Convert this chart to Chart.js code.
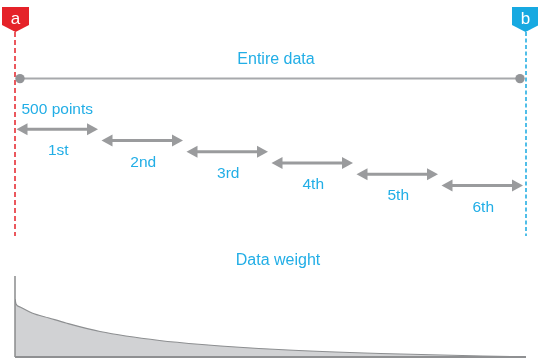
<!DOCTYPE html>
<html>
<head>
<meta charset="utf-8">
<script src="https://cdn.jsdelivr.net/npm/chart.js@4.4.1/dist/chart.umd.min.js"></script>
<style>
  html, body { margin: 0; padding: 0; background: #fff; }
  #wrap { position: relative; width: 538px; height: 358px; overflow: hidden; }
  #top { position: absolute; left: 0; top: 0; }
  #bottom { position: absolute; left: 0; top: 240px; }
</style>
</head>
<body>
<div id="wrap">
  <canvas id="top" width="538" height="240"></canvas>
  <canvas id="bottom" width="538" height="118"></canvas>
</div>
<script>
// --- data ---
const entireRange = [0, 3000];            // whole series, in points
const windowStarts = [0, 500, 1000, 1500, 2000, 2500];
const windowSize = 500;
const windowLabels = ['1st', '2nd', '3rd', '4th', '5th', '6th'];
const markerLabels = ['a', 'b'];
const entireLabel = 'Entire data';
const sizeLabel = '500 points';
const weightTitle = 'Data weight';

// weight curve (x in points, y in weight units)
const weightX = [0, 6, 30, 100, 200, 300, 500, 850, 1100, 1550, 2150, 2750, 3000];
const weightY = [58, 53, 50, 44, 39, 34, 25.5, 16.5, 12.5, 7.5, 3.5, 1, 0.3];

// --- styling ---
const FONT = '"Liberation Sans", Arial, Helvetica, sans-serif';
const BLUE_TEXT = '#22aee6';
const RED = '#e52229';
const BLUE = '#17a9e1';
const ARROW = '#9a9b9d';
const firstRow = 4.5;   // vertical level of the first window (row 0 = entire data)

function drawArrow(ctx, x1, x2, yy) {
    const head = 11, half = 6;
    ctx.strokeStyle = ARROW;
    ctx.fillStyle = ARROW;
    ctx.lineWidth = 3;
    ctx.setLineDash([]);
    ctx.beginPath();
    ctx.moveTo(x1 + head - 1, yy);
    ctx.lineTo(x2 - head + 1, yy);
    ctx.stroke();
    ctx.beginPath();
    ctx.moveTo(x1, yy);
    ctx.lineTo(x1 + head, yy - half);
    ctx.lineTo(x1 + head, yy + half);
    ctx.closePath();
    ctx.fill();
    ctx.beginPath();
    ctx.moveTo(x2, yy);
    ctx.lineTo(x2 - head, yy - half);
    ctx.lineTo(x2 - head, yy + half);
    ctx.closePath();
    ctx.fill();
}

function drawFlag(ctx, cx, label, color) {
    const w = 27;
    ctx.fillStyle = color;
    ctx.beginPath();
    ctx.moveTo(cx - w / 2, 7);
    ctx.lineTo(cx + w / 2, 7);
    ctx.lineTo(cx + w / 2, 25);
    ctx.lineTo(cx, 32);
    ctx.lineTo(cx - w / 2, 25);
    ctx.closePath();
    ctx.fill();
    ctx.fillStyle = '#fff';
    ctx.font = '17px ' + FONT;
    ctx.textAlign = 'center';
    ctx.textBaseline = 'alphabetic';
    ctx.fillText(label, cx, 24);
}

function drawDashed(ctx, xx, top, bottom, color, dash) {
    ctx.strokeStyle = color;
    ctx.lineWidth = 1.5;
    ctx.setLineDash(dash);
    ctx.beginPath();
    ctx.moveTo(xx, top);
    ctx.lineTo(xx, bottom);
    ctx.stroke();
    ctx.setLineDash([]);
}

const diagramPlugin = {
    id: 'diagram',
    afterDatasetsDraw(chart) {
        const { ctx, chartArea } = chart;
        const x = chart.scales.x, y = chart.scales.y;
        ctx.save();
        const xa = x.getPixelForValue(entireRange[0]);
        const xb = x.getPixelForValue(entireRange[1]);

        // markers a / b
        drawDashed(ctx, xa, 32, chartArea.bottom, RED, [5, 3]);
        drawDashed(ctx, xb + 1, 32, chartArea.bottom, BLUE, [4, 2.5]);
        drawFlag(ctx, xa + 0.5, markerLabels[0], RED);
        drawFlag(ctx, xb + 0.5, markerLabels[1], BLUE);

        // entire data
        const y0 = y.getPixelForValue(0);
        ctx.strokeStyle = '#a7a9ac';
        ctx.lineWidth = 2;
        ctx.beginPath();
        ctx.moveTo(xa + 5, y0);
        ctx.lineTo(xb - 5, y0);
        ctx.stroke();
        ctx.fillStyle = '#939598';
        [xa + 5, xb - 5].forEach(px => {
            ctx.beginPath();
            ctx.arc(px, y0, 4.7, 0, Math.PI * 2);
            ctx.fill();
        });

        ctx.font = '16px ' + FONT;
        ctx.textAlign = 'center';
        ctx.textBaseline = 'middle';
        ctx.fillStyle = BLUE_TEXT;
        ctx.fillText(entireLabel, (xa + xb) / 2 + 6, y.getPixelForValue(-1.65));

        // windows
        ctx.font = '15.5px ' + FONT;
        windowStarts.forEach((s, i) => {
            const row = firstRow + i;
            const p1 = x.getPixelForValue(s) + 1.5;
            const p2 = x.getPixelForValue(s + windowSize) - 2;
            const py = y.getPixelForValue(row);
            drawArrow(ctx, p1, p2, py);
            ctx.fillStyle = BLUE_TEXT;
            ctx.fillText(windowLabels[i], (p1 + p2) / 2 + 1, y.getPixelForValue(row + 1.95));
            if (i === 0) {
                ctx.fillText(sizeLabel, (p1 + p2) / 2, y.getPixelForValue(row - 1.7));
            }
        });
        ctx.restore();
    }
};

new Chart(document.getElementById('top'), {
    type: 'scatter',
    data: { datasets: [] },
    options: {
        responsive: false,
        animation: false,
        devicePixelRatio: 1,
        layout: { padding: { left: 15, right: 13, top: 28, bottom: 4 } },
        plugins: { legend: { display: false }, tooltip: { enabled: false } },
        scales: {
            x: { type: 'linear', min: entireRange[0], max: entireRange[1], display: false },
            y: { type: 'linear', min: -4.5, max: 14, reverse: true, display: false }
        }
    },
    plugins: [diagramPlugin]
});

const weightAxisPlugin = {
    id: 'weightAxis',
    afterDatasetsDraw(chart) {
        const { ctx, chartArea } = chart;
        const x = chart.scales.x;
        const xa = x.getPixelForValue(entireRange[0]);
        const xb = x.getPixelForValue(entireRange[1]);
        ctx.save();
        ctx.strokeStyle = '#8a8b8d';
        ctx.lineWidth = 1.5;
        ctx.beginPath();
        ctx.moveTo(xa, chartArea.top);
        ctx.lineTo(xa, chartArea.bottom);
        ctx.stroke();
        ctx.strokeStyle = '#8f9092';
        ctx.lineWidth = 2;
        ctx.beginPath();
        ctx.moveTo(xa, chartArea.bottom);
        ctx.lineTo(xb + 1, chartArea.bottom);
        ctx.stroke();

        ctx.font = '16px ' + FONT;
        ctx.textAlign = 'center';
        ctx.textBaseline = 'middle';
        ctx.fillStyle = BLUE_TEXT;
        ctx.fillText(weightTitle, (xa + xb) / 2 + 8, 21);
        ctx.restore();
    }
};

new Chart(document.getElementById('bottom'), {
    type: 'line',
    data: {
        datasets: [{
            data: weightX.map((v, i) => ({ x: v, y: weightY[i] })),
            borderColor: '#8d8f91',
            borderWidth: 1.2,
            backgroundColor: '#d1d2d4',
            fill: 'origin',
            pointRadius: 0,
            cubicInterpolationMode: 'monotone'
        }]
    },
    options: {
        responsive: false,
        animation: false,
        devicePixelRatio: 1,
        layout: { padding: { left: 15, right: 13, top: 36, bottom: 1 } },
        plugins: { legend: { display: false }, tooltip: { enabled: false } },
        scales: {
            x: { type: 'linear', min: entireRange[0], max: entireRange[1], display: false },
            y: { type: 'linear', min: 0, max: 81, display: false }
        }
    },
    plugins: [weightAxisPlugin]
});
</script>
</body>
</html>
